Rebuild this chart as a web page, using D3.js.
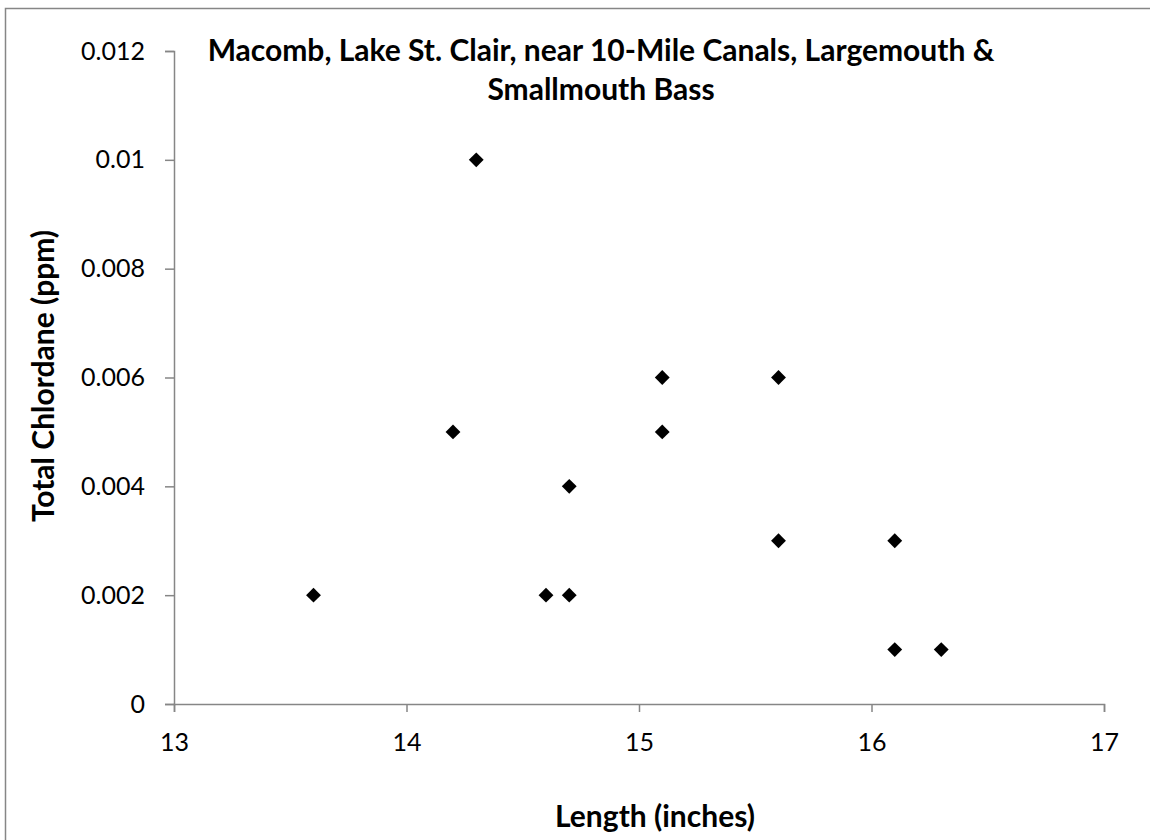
<!DOCTYPE html>
<html><head><meta charset="utf-8">
<script src="https://cdn.jsdelivr.net/npm/d3@7"></script>
<style>body{margin:0;background:#fff}svg{display:block}text{font-family:Lato,"Open Sans",sans-serif}</style>
</head><body>
<svg id="c" width="1150" height="840"></svg>
<script>
const lengths = [13.6, 14.2, 14.3, 14.6, 14.7, 14.7, 15.1, 15.1, 15.6, 15.6, 16.1, 16.1, 16.3];
const chlordane = [0.002, 0.005, 0.01, 0.002, 0.002, 0.004, 0.006, 0.005, 0.006, 0.003, 0.003, 0.001, 0.001];
const xTicks = [13, 14, 15, 16, 17];
const yTicks = [0, 0.002, 0.004, 0.006, 0.008, 0.01, 0.012];
const titleLines = ["Macomb, Lake St. Clair, near 10-Mile Canals, Largemouth &", "Smallmouth Bass"];
const xLabel = "Length (inches)";
const yLabel = "Total Chlordane (ppm)";

const svg = d3.select("#c");
svg.append("rect").attr("x",5.5).attr("y",8.5).attr("width",1160).attr("height",850)
  .attr("fill","#fff").attr("stroke","#868686").attr("stroke-width",1.5);

const x = d3.scaleLinear().domain([13,17]).range([174,1104]);
const y = d3.scaleLinear().domain([0,0.012]).range([704,51]);

const gx = svg.append("g").attr("transform","translate(0,704)")
  .call(d3.axisBottom(x).tickValues(xTicks).tickSize(8).tickPadding(0).tickFormat(d3.format("d")));
const gy = svg.append("g").attr("transform","translate(174,0)")
  .call(d3.axisLeft(y).tickValues(yTicks).tickSize(9).tickPadding(20).tickFormat(d=> d===0?"0":String(+d.toFixed(3))));
[gx,gy].forEach(g=>{
  g.attr("font-size",25);
  g.select(".domain").attr("stroke","#868686").attr("stroke-width",1.5);
  g.selectAll(".tick line").attr("stroke","#868686").attr("stroke-width",1.5);
  g.selectAll(".tick text").attr("font-size",25).attr("fill","#000").style("font-family","Lato, 'Open Sans', sans-serif");
});
gx.selectAll(".tick text").attr("dy",null).attr("y",47);

const diamond = d3.symbol().type(d3.symbolSquare).size(110);
svg.append("g").selectAll("path").data(lengths.map((l,i)=>[l,chlordane[i]])).join("path")
  .attr("d",diamond)
  .attr("transform",d=>`translate(${x(d[0])},${y(d[1])}) rotate(45)`)
  .attr("fill","#000");

svg.append("g").selectAll("text").data(titleLines).join("text")
  .attr("x",601).attr("y",(d,i)=>61+i*39).attr("text-anchor","middle")
  .attr("font-size",30).attr("font-weight","bold").text(d=>d);

svg.append("text").attr("x",655).attr("y",827).attr("text-anchor","middle")
  .attr("font-size",30).attr("font-weight","bold").text(xLabel);
svg.append("text").attr("transform","translate(54,376) rotate(-90)").attr("text-anchor","middle")
  .attr("font-size",30).attr("font-weight","bold").text(yLabel);
</script>
</body></html>
